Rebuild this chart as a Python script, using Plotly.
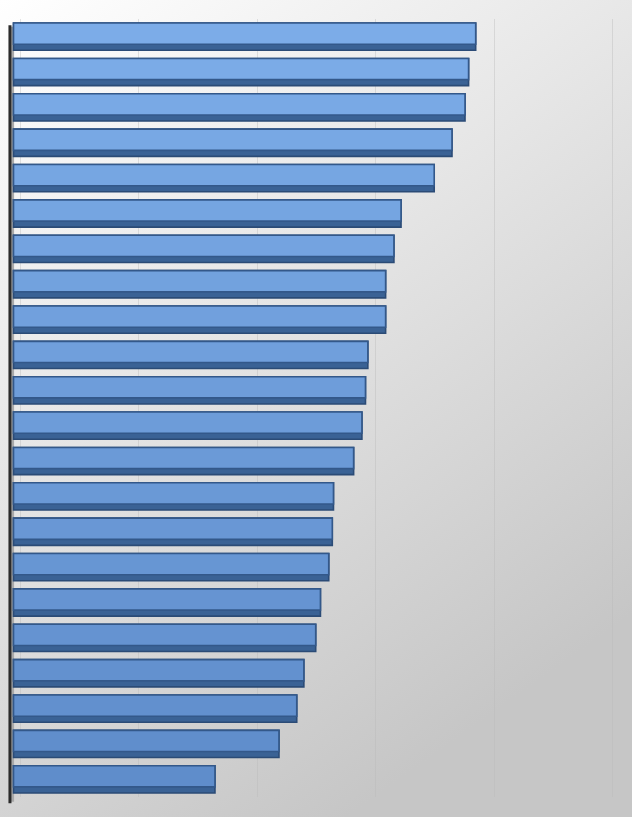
import base64
import numpy as np
import plotly.graph_objects as go

# categories (top to bottom) and bar values
items = ["A", "B", "C", "D", "E", "F", "G", "H", "I", "J", "K",
         "L", "M", "N", "O", "P", "Q", "R", "S", "T", "U", "V"]
values = [3.90, 3.84, 3.81, 3.70, 3.55, 3.27, 3.21, 3.14, 3.14, 2.99, 2.97,
          2.94, 2.87, 2.70, 2.69, 2.66, 2.59, 2.55, 2.45, 2.39, 2.24, 1.70]

W, H = 632, 817
ML, MR, MT, MB = 0, 0, 19, 20
plot_h = H - MT - MB
x_min, x_max = -0.114, 5.219
depth = 0.055  # back-wall gridlines sit slightly right of the bars (3d look)

# bar face colours: lighter at top, darker at the bottom
top_c = np.array([124, 172, 232])
bot_c = np.array([95, 141, 203])
face_colors = []
for i in range(len(items)):
    t = i / (len(items) - 1)
    c = (1 - t) * top_c + t * bot_c
    face_colors.append("rgb(%d,%d,%d)" % tuple(c.round()))

# gradient background as an svg image
svg = ('<svg xmlns="http://www.w3.org/2000/svg" width="%d" height="%d">'
       '<defs><linearGradient id="g" x1="0" y1="0" x2="0.55" y2="1">'
       '<stop offset="0" stop-color="#ffffff"/>'
       '<stop offset="0.45" stop-color="#e6e6e6"/>'
       '<stop offset="1" stop-color="#c6c6c6"/>'
       '</linearGradient></defs>'
       '<rect width="%d" height="%d" fill="url(#g)"/></svg>') % (W, H, W, H)
bg_src = "data:image/svg+xml;base64," + base64.b64encode(svg.encode()).decode()

fig = go.Figure()

# dark lower part of each bar (the 3d side)
fig.add_trace(go.Bar(
    y=items, x=values, orientation="h",
    width=0.77, offset=-0.385,
    marker=dict(color="#3a6295", line=dict(color="#2b4b76", width=1.6)),
    hoverinfo="skip",
))
# bar face
fig.add_trace(go.Bar(
    y=items, x=values, orientation="h",
    width=0.6, offset=-0.385,
    marker=dict(color=face_colors, line=dict(color="#33588a", width=1.6)),
))

fig.update_layout(
    width=W, height=H,
    margin=dict(l=ML, r=MR, t=MT, b=MB),
    barmode="overlay",
    showlegend=False,
    paper_bgcolor="#e0e0e0",
    plot_bgcolor="rgba(0,0,0,0)",
    xaxis=dict(range=[x_min, x_max], tick0=depth, dtick=1,
               showgrid=True, gridcolor="rgba(185,185,185,0.4)", gridwidth=1,
               showticklabels=False, zeroline=False, showline=False, ticks=""),
    yaxis=dict(autorange="reversed", showticklabels=False, showgrid=False,
               zeroline=False, showline=False, ticks=""),
    images=[dict(source=bg_src, xref="paper", yref="paper",
                 x=0, y=1 + MT / plot_h, sizex=1, sizey=H / plot_h,
                 xanchor="left", yanchor="top", sizing="stretch", layer="below")],
    shapes=[
        # grey side wall between axis and bars
        dict(type="rect", xref="x", yref="paper", x0=-0.03, x1=0.005,
             y0=-0.006, y1=0.99, fillcolor="#a9a9a9", line=dict(width=0), layer="below"),
        # vertical axis line
        dict(type="line", xref="x", yref="paper", x0=-0.03, x1=-0.03,
             y0=-0.008, y1=0.992, line=dict(color="#2b2b2b", width=3)),
    ],
)

fig.write_html("out.html", config={"displayModeBar": False},
               post_script="document.body.style.margin='0';document.body.style.overflow='hidden';")
